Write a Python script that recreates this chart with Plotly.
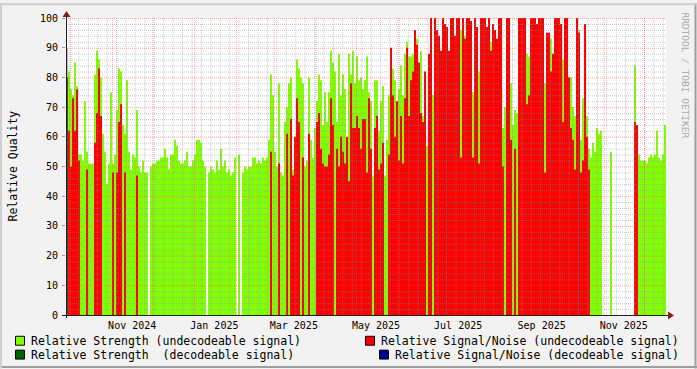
import plotly.graph_objects as go
import pandas as pd

# ---------------- data (one value per sample period, 0 = no data) ----------------
STRENGTH = [
    90, 82, 76, 74, 85, 77, 54, 54, 52, 72,
    55, 51, 51, 51, 81, 89, 86, 80, 61, 55,
    44, 51, 75, 51, 54, 69, 83, 82, 64, 61,
    79, 55, 49, 54, 53, 69, 50, 48, 52, 48,
    48, 0, 50, 51, 51, 52, 52, 53, 53, 56,
    53, 49, 54, 54, 59, 57, 52, 51, 51, 52,
    55, 50, 50, 52, 54, 59, 59, 58, 52, 50,
    0, 48, 50, 49, 48, 52, 49, 56, 50, 52,
    48, 49, 47, 48, 53, 0, 54, 0, 48, 50,
    49, 50, 50, 53, 53, 51, 52, 51, 53, 52,
    53, 59, 81, 74, 55, 50, 78, 48, 47, 65,
    70, 78, 80, 49, 58, 86, 83, 80, 78, 50,
    52, 80, 59, 53, 63, 72, 81, 79, 64, 75,
    65, 75, 89, 85, 82, 65, 88, 74, 81, 76,
    54, 88, 81, 89, 78, 87, 79, 80, 76, 79,
    87, 75, 72, 47, 79, 79, 62, 72, 77, 47,
    59, 74, 88, 83, 79, 63, 76, 84, 74, 88,
    92, 87, 87, 88, 75, 93, 70, 89, 67, 82,
    57, 0, 0, 74, 0, 85, 83, 0, 0, 0,
    77, 0, 0, 0, 0, 0, 95, 96, 91, 94,
    75, 86, 0, 75, 0, 0, 82, 0, 0, 0,
    0, 95, 92, 0, 90, 0, 0, 0, 63, 70,
    0, 0, 78, 64, 69, 68, 0, 0, 0, 0,
    88, 87, 85, 98, 0, 0, 0, 0, 0, 78,
    73, 92, 93, 88, 82, 95, 0, 0, 86, 89,
    82, 80, 80, 70, 67, 0, 96, 59, 73, 92,
    67, 56, 53, 58, 55, 63, 61, 62, 0, 0,
    0, 0, 55, 0, 0, 0, 0, 0, 0, 0,
    0, 0, 0, 0, 84, 54, 54, 52, 52, 52,
    51, 53, 54, 53, 54, 62, 53, 52, 54, 64,
]
SNR = [
    80, 62, 50, 73, 62, 76, 52, 0, 0, 0,
    49, 0, 0, 0, 58, 68, 83, 67, 0, 0,
    0, 0, 0, 48, 0, 48, 65, 71, 0, 48,
    0, 0, 0, 0, 0, 47, 0, 0, 0, 0,
    0, 0, 0, 0, 0, 0, 0, 0, 0, 0,
    0, 0, 0, 0, 0, 0, 0, 0, 0, 0,
    0, 0, 0, 0, 0, 0, 0, 0, 0, 0,
    0, 0, 0, 0, 0, 0, 0, 0, 0, 0,
    0, 0, 0, 0, 0, 0, 0, 0, 0, 0,
    0, 0, 0, 0, 0, 0, 0, 0, 0, 0,
    0, 0, 55, 0, 0, 0, 51, 0, 0, 0,
    61, 0, 66, 47, 60, 73, 65, 0, 53, 0,
    0, 61, 0, 0, 0, 65, 68, 56, 51, 50,
    50, 54, 73, 64, 0, 56, 50, 60, 55, 51,
    60, 45, 78, 63, 63, 67, 63, 56, 66, 66,
    48, 73, 56, 0, 63, 67, 49, 51, 58, 0,
    0, 54, 90, 74, 60, 72, 52, 67, 51, 73,
    90, 67, 79, 82, 96, 91, 85, 68, 65, 82,
    0, 88, 100, 0, 100, 96, 94, 89, 100, 98,
    97, 89, 100, 100, 94, 100, 100, 53, 100, 93,
    100, 100, 99, 53, 100, 97, 51, 100, 100, 100,
    97, 100, 89, 98, 96, 93, 100, 100, 50, 0,
    100, 100, 59, 0, 56, 0, 100, 100, 100, 100,
    71, 74, 100, 100, 100, 98, 100, 100, 100, 48,
    95, 95, 82, 88, 100, 100, 100, 98, 65, 100,
    100, 80, 63, 59, 49, 100, 95, 48, 52, 98,
    60, 49, 0, 0, 0, 0, 0, 0, 0, 0,
    0, 0, 0, 0, 0, 0, 0, 0, 0, 0,
    0, 0, 0, 0, 65, 64, 0, 0, 0, 0,
    0, 0, 0, 0, 0, 0, 0, 0, 0, 0,
]
X_START = "2024-09-27 20:17"
X_END = "2025-12-17 08:02"
X_LABELS = ["Nov 2024", "Jan 2025", "Mar 2025", "May 2025", "Jul 2025", "Sep 2025", "Nov 2025"]
X_LABEL_MONTHS = ["2024-11-01", "2025-01-01", "2025-03-01", "2025-05-01", "2025-07-01", "2025-09-01", "2025-11-01"]
Y_TICKS = list(range(0, 101, 10))
LEGEND_ITEMS = [
    ("Relative Strength (undecodeable signal)", "#80FF00"),
    ("Relative Signal/Noise (undecodeable signal)", "#FF0000"),
    ("Relative Strength  (decodeable signal)", "#006400"),
    ("Relative Signal/Noise (decodeable signal)", "#000090"),
]
Y_TITLE = "Relative Quality"
WATERMARK = "RRDTOOL / TOBI OETIKER"

# ---------------- geometry ----------------
W, H = 697, 369
L, T, PW, PH = 66, 15, 600, 300
FONT = "DejaVu Sans Mono"

t0 = pd.Timestamp(X_START)
t1 = pd.Timestamp(X_END)
N = len(STRENGTH)
step = (t1 - t0) / N
x_edges = [t0 + step * i for i in range(N + 1)]
ms_per_px = (t1 - t0).total_seconds() * 1000.0 / PW


def px(xp):
    return (xp - L) / PW


def py(yp):
    return (T + PH - yp) / PH


fig = go.Figure()
for vals, col in ((STRENGTH, "#80FF00"), (SNR, "#FF0000")):
    fig.add_trace(go.Scatter(x=x_edges, y=list(vals) + [vals[-1]], mode="lines",
                             line=dict(width=0, shape="hv", simplify=False),
                             fill="tozeroy", fillcolor=col, showlegend=False, hoverinfo="skip"))

shapes = []
half_y = 0.5 * 100.0 / PH
half_t = pd.Timedelta(milliseconds=0.5 * ms_per_px)
MINOR = "rgba(143,143,143,0.45)"
MAJOR = "rgba(222,79,79,0.45)"
# horizontal grid (minor every 2, major every 10) drawn over the data
for v in range(2, 101, 2):
    major = v % 10 == 0
    shapes.append(dict(type="line", xref="x", yref="y", x0=t0, x1=t1, y0=v - half_y, y1=v - half_y,
                       layer="above", line=dict(color=MAJOR if major else MINOR, width=1, dash="1px,1px")))
# vertical minor grid: weekly (Mondays)
d = pd.Timestamp("2024-09-30")
while d < t1:
    if d > t0:
        shapes.append(dict(type="line", xref="x", yref="y", x0=d + half_t, x1=d + half_t, y0=0, y1=100,
                           layer="above", line=dict(color=MINOR, width=1, dash="1px,1px")))
    d += pd.Timedelta(days=7)
# vertical major grid: months
m = pd.Timestamp("2024-10-01")
while m < t1:
    if m > t0:
        shapes.append(dict(type="line", xref="x", yref="y", x0=m + half_t, x1=m + half_t, y0=0, y1=100,
                           layer="above", line=dict(color=MAJOR, width=1, dash="1px,1px")))
    m = m + pd.DateOffset(months=1)

# axes lines and arrows
shapes.append(dict(type="line", xref="paper", yref="paper", x0=px(62), x1=px(669), y0=py(315.5), y1=py(315.5),
                   layer="above", line=dict(color="#1F1F1F", width=1)))
shapes.append(dict(type="line", xref="paper", yref="paper", x0=px(66.5), x1=px(66.5), y0=py(318), y1=py(12),
                   layer="above", line=dict(color="#1F1F1F", width=1)))
shapes.append(dict(type="path", xref="paper", yref="paper",
                   path=f"M {px(668)} {py(311.5)} L {px(674)} {py(315.5)} L {px(668)} {py(319.5)} Z",
                   fillcolor="#801F1F", line=dict(width=0), layer="above"))
shapes.append(dict(type="path", xref="paper", yref="paper",
                   path=f"M {px(62.5)} {py(14)} L {px(66.5)} {py(8)} L {px(70.5)} {py(14)} Z",
                   fillcolor="#801F1F", line=dict(width=0), layer="above"))
# 3D frame of the image
shapes.append(dict(type="line", xref="paper", yref="paper", x0=px(0), x1=px(697), y0=py(367.5), y1=py(367.5),
                   line=dict(color="#9E9E9E", width=2), layer="above"))
shapes.append(dict(type="line", xref="paper", yref="paper", x0=px(695.5), x1=px(695.5), y0=py(0), y1=py(369),
                   line=dict(color="#9E9E9E", width=2), layer="above"))
shapes.append(dict(type="line", xref="paper", yref="paper", x0=px(0), x1=px(697), y0=py(1), y1=py(1),
                   line=dict(color="#CFCFCF", width=2), layer="above"))
shapes.append(dict(type="line", xref="paper", yref="paper", x0=px(1), x1=px(1), y0=py(0), y1=py(369),
                   line=dict(color="#CFCFCF", width=2), layer="above"))

annotations = []
# legend
leg_pos = [(15, 341, 30), (365, 341, 380), (15, 355, 30), (379, 355, 394)]
for (label, col), (bx, cy, tx) in zip(LEGEND_ITEMS, leg_pos):
    shapes.append(dict(type="rect", xref="paper", yref="paper", x0=px(bx + 0.5), x1=px(bx + 9.5),
                       y0=py(cy - 4.5), y1=py(cy + 4.5), fillcolor=col,
                       line=dict(color="#000000", width=1), layer="above"))
    annotations.append(dict(text=label, xref="paper", yref="paper", x=px(tx - 1.5), y=py(cy), xanchor="left",
                            yanchor="middle", showarrow=False, font=dict(family=FONT, size=11.5, color="#000000")))

annotations.append(dict(text=Y_TITLE, xref="paper", yref="paper", x=px(12), y=py(165), textangle=-90,
                        xanchor="center", yanchor="middle", showarrow=False,
                        font=dict(family=FONT, size=11.5, color="#000000")))
annotations.append(dict(text=WATERMARK, xref="paper", yref="paper", x=px(686), y=py(73), textangle=90,
                        xanchor="center", yanchor="middle", showarrow=False,
                        font=dict(family=FONT, size=9.5, color="#A8A8A8")))

label_vals = [pd.Timestamp(s) + pd.Timedelta(days=15) for s in X_LABEL_MONTHS]

fig.update_layout(
    width=W, height=H,
    margin=dict(l=L, r=W - L - PW, t=T, b=H - T - PH, pad=0),
    paper_bgcolor="#F2F2F2", plot_bgcolor="#FFFFFF",
    showlegend=False,
    xaxis=dict(type="date", range=[t0, t1], tickvals=label_vals, ticktext=X_LABELS, showgrid=False,
               zeroline=False, showline=False, ticks="", ticklabelstandoff=3,
               tickfont=dict(family=FONT, size=10, color="#000000"), fixedrange=True),
    yaxis=dict(range=[0, 100], tickvals=Y_TICKS, showgrid=False, zeroline=False, showline=False,
               ticks="outside", ticklen=3, tickcolor="rgba(143,143,143,0.9)", ticklabelstandoff=2,
               tickfont=dict(family=FONT, size=10, color="#000000"), fixedrange=True),
    shapes=shapes, annotations=annotations,
)

fig.write_html("out.html")
